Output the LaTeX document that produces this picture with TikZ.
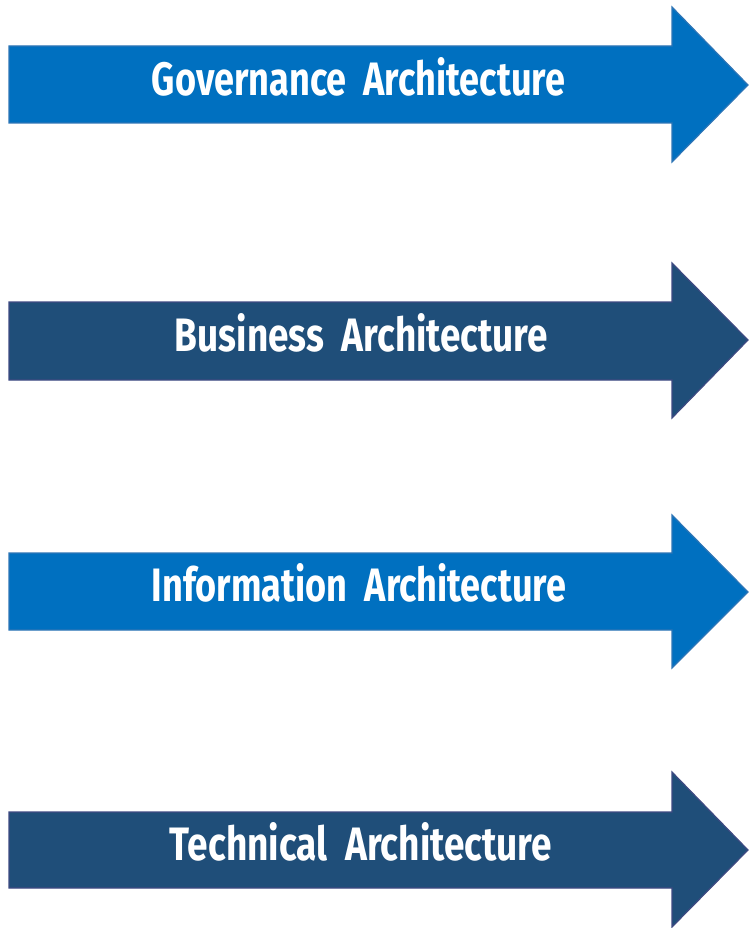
\documentclass[tikz,border=0pt]{standalone}
\usepackage{fontspec}
\setmainfont{Fira Sans}
\definecolor{lightfill}{HTML}{0070C0}
\definecolor{lightedge}{HTML}{2E75B6}
\definecolor{darkfill}{HTML}{1F4E79}
\definecolor{darkedge}{HTML}{3E4A82}
\tikzset{
  lightarrow/.style={fill=lightfill, draw=lightedge, line width=1.2pt, line join=miter},
  darkarrow/.style={fill=darkfill, draw=darkedge, line width=1.2pt, line join=miter},
  arrowlabel/.style={text=white, inner sep=0pt, outer sep=0pt, anchor=center, font=\bfseries}
}
\newcommand{\archarrow}[6]{% style, top, bottom, headtop, headbottom, tip
  \path[#1] (9,#2) -- (672,#2) -- (672,#4) -- (748,#6) -- (672,#5) -- (672,#3) -- (9,#3) -- cycle;
}
\begin{document}
\begin{tikzpicture}[x=1pt,y=-1pt]
  \useasboundingbox (0,0) rectangle (749,928);
  \archarrow{lightarrow}{46}{123}{7}{162}{85}
  \archarrow{darkarrow}{302}{380}{263}{418}{340}
  \archarrow{lightarrow}{553}{630}{515}{668}{592}
  \archarrow{darkarrow}{812}{888}{772}{927}{850}
  \node[arrowlabel] (gov) at (358.5,76.5) {\resizebox{413pt}{38pt}{Governance\ \ Architecture}};
  \node[arrowlabel] (bus) at (361.5,333) {\resizebox{373pt}{38pt}{Business\ \ Architecture}};
  \node[arrowlabel] (inf) at (359,583) {\resizebox{414pt}{38pt}{Information\ \ Architecture}};
  \node[arrowlabel] (tec) at (361,841.5) {\resizebox{382pt}{38pt}{Technical\ \ Architecture}};
\end{tikzpicture}
\end{document}
